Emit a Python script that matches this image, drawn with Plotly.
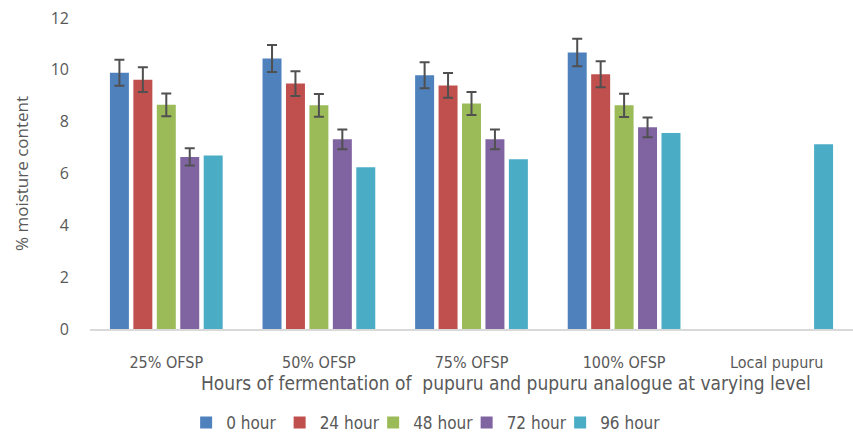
import plotly.graph_objects as go

categories = ["25% OFSP", "50% OFSP", "75% OFSP", "100% OFSP", "Local pupuru"]
series_names = ["0 hour", "24 hour", "48 hour", "72 hour", "96 hour"]
hour0 = [9.89, 10.44, 9.79, 10.67, None]
hour24 = [9.62, 9.47, 9.40, 9.83, None]
hour48 = [8.65, 8.63, 8.70, 8.63, None]
hour72 = [6.64, 7.32, 7.32, 7.78, None]
hour96 = [6.69, 6.24, 6.55, 7.56, 7.13]
err0 = [0.50, 0.52, 0.50, 0.53, None]
err24 = [0.48, 0.48, 0.48, 0.50, None]
err48 = [0.44, 0.44, 0.44, 0.45, None]
err72 = [0.33, 0.38, 0.38, 0.38, None]
err96 = None
y_ticks = [0, 2, 4, 6, 8, 10, 12]
x_title = "Hours of fermentation of  pupuru and pupuru analogue at varying level"
y_title = "% moisture content"

colors = ["#4F81BD", "#C0504D", "#9BBB59", "#8064A2", "#4BACC6"]
values = [hour0, hour24, hour48, hour72, hour96]
errors = [err0, err24, err48, err72, err96]

NARROW = "Liberation Sans Narrow, Arial Narrow, DejaVu Sans Condensed, sans-serif"
REG = "Open Sans, sans-serif"
GREY = "#595959"

fig = go.Figure()
for i, (name, vals, err, col) in enumerate(zip(series_names, values, errors, colors)):
    kw = {}
    if err is not None:
        kw["error_y"] = dict(type="data", array=err, visible=True, color="#505050",
                             thickness=2, width=5)
    if i == len(series_names) - 1:
        kw["legendwidth"] = 70
    fig.add_trace(go.Bar(x=categories, y=vals, name=name, marker_color=col,
                         marker_line_width=0, **kw))

fig.update_layout(
    width=853, height=441,
    margin=dict(l=90, r=0, t=18, b=105),
    plot_bgcolor="white", paper_bgcolor="white",
    barmode="group", bargap=0.232, bargroupgap=0.19,
    showlegend=True,
    legend=dict(orientation="h", x=0.126, xanchor="left", y=(336 - 432) / 318, yanchor="middle",
                font=dict(family=NARROW, size=17, color=GREY),
                entrywidth=48.5, entrywidthmode="pixels", itemwidth=30,
                bgcolor="rgba(0,0,0,0)"),
    annotations=[dict(text=x_title, xref="paper", yref="paper",
                      x=(506 - 90) / 763, y=(336 - 391) / 318,
                      xanchor="center", yanchor="middle", showarrow=False,
                      font=dict(family=NARROW, size=19, color=GREY))],
)
fig.update_xaxes(showline=True, linecolor="#D9D9D9", linewidth=2, ticks="",
                 showgrid=False, ticklabelstandoff=18, automargin=False,
                 tickfont=dict(family=NARROW, size=16, color=GREY))
fig.update_yaxes(range=[0, 12], tickvals=y_ticks, showgrid=False, zeroline=False,
                 showline=False, ticks="", ticklabelstandoff=20, automargin=False,
                 tickfont=dict(family=REG, size=16, color=GREY),
                 title=dict(text=y_title, font=dict(family=REG, size=17, color=GREY),
                            standoff=17))

fig.write_html("out.html", config={"displayModeBar": False},
               post_script="document.body.style.margin='0';document.body.style.padding='0';")
